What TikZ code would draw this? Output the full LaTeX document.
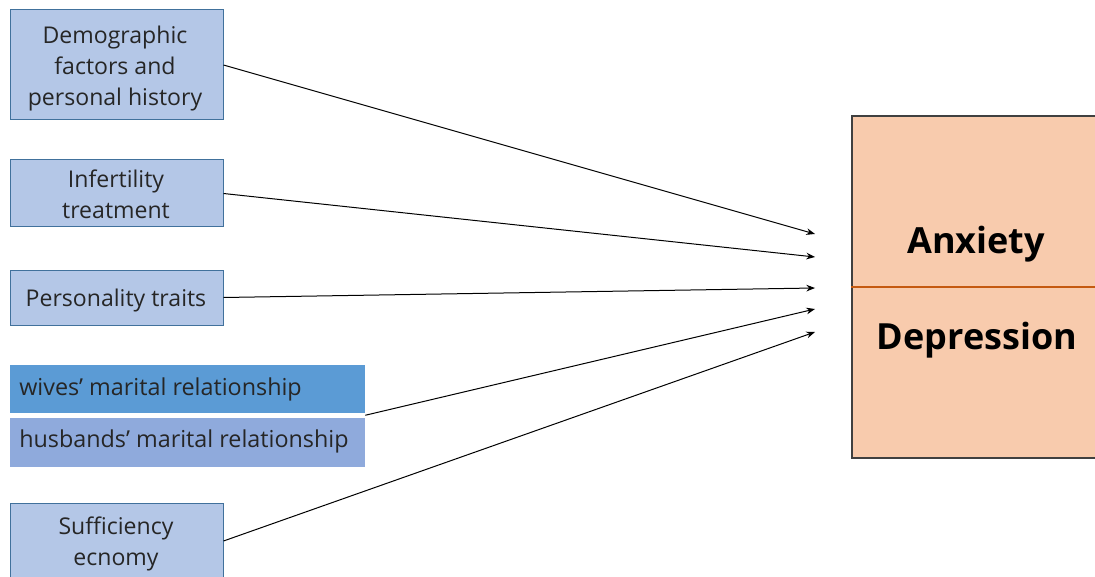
\documentclass[tikz,border=0pt]{standalone}
\usepackage{fontspec}
\setmainfont{Open Sans}
\usetikzlibrary{arrows.meta}
\definecolor{factorfill}{HTML}{B4C7E7}
\definecolor{factorline}{HTML}{41719C}
\definecolor{wivesfill}{HTML}{5B9BD5}
\definecolor{husbfill}{HTML}{8FAADC}
\definecolor{outfill}{HTML}{F8CBAD}
\definecolor{outline}{HTML}{404040}
\definecolor{divline}{HTML}{C55A11}
\definecolor{textdark}{HTML}{262626}
\tikzset{
  factor/.style={draw=factorline, line width=0.75pt, fill=factorfill, inner sep=0pt},
  factortext/.style={align=center, font=\fontsize{17.3}{23.25}\selectfont, text=textdark, inner sep=0pt},
  pairbox/.style={inner sep=0pt, font=\fontsize{17.5}{20}\selectfont, text=textdark, anchor=west},
  outcomebox/.style={draw=outline, line width=0.9pt, fill=outfill},
  outlabel/.style={font=\fontsize{27}{32}\bfseries\selectfont, text=black},
  link/.style={line width=0.75pt, -{Stealth[length=6.5pt,width=5pt]}}
}
\begin{document}
\begin{tikzpicture}[x=0.75pt,y=-0.75pt]
\useasboundingbox (0,0) rectangle (1095,577);
% influencing factors
\node[factor, minimum width=213*0.75pt, minimum height=110*0.75pt] (demo) at (116.5,65) {};
\node[factortext] (demot) at (115,69) {Demographic\\factors and\\personal history};
\node[factor, minimum width=213*0.75pt, minimum height=67*0.75pt] (infert) at (116.5,193.5) {};
\node[factortext] (infertt) at (116,194.5) {Infertility\\treatment};
\node[factor, minimum width=213*0.75pt, minimum height=55*0.75pt] (pers) at (116.5,297.5) {};
\node[factortext] (perst) at (116,301) {Personality traits};
\node[fill=wivesfill, minimum width=355*0.75pt, minimum height=48*0.75pt, inner sep=0pt] (wives) at (187.5,389) {};
\node[pairbox] (wivest) at (19,389) {wives' marital relationship};
\node[fill=husbfill, minimum width=355*0.75pt, minimum height=49*0.75pt, inner sep=0pt] (husb) at (187.5,442.5) {};
\node[pairbox] (husbt) at (19,441) {husbands' marital relationship};
\node[factor, minimum width=213*0.75pt, minimum height=84*0.75pt] (suff) at (116.5,545) {};
\node[factortext] (sufft) at (116,544) {Sufficiency\\ecnomy};
% outcome
\node[outcomebox, minimum width=253*0.75pt, minimum height=342*0.75pt, inner sep=0pt] (out) at (978.5,287) {};
\draw[divline, line width=0.9pt] (out.west) -- (out.east);
\node[outlabel] (anx) at (976,244) {Anxiety};
\node[outlabel] (dep) at (977,340) {Depression};
% arrow ends
\coordinate (t1) at (815,234);
\coordinate (t2) at (815,257);
\coordinate (t3) at (815,288);
\coordinate (t4) at (815,309);
\coordinate (t5) at (815,332);
\draw[link] (demo.east) -- (t1);
\draw[link] (infert.east) -- (t2);
\draw[link] (pers.east) -- (t3);
\draw[link] ([yshift=-1.5pt]wives.south east) -- (t4);
\draw[link] ([yshift=3pt]suff.east) -- (t5);
\end{tikzpicture}
\end{document}
